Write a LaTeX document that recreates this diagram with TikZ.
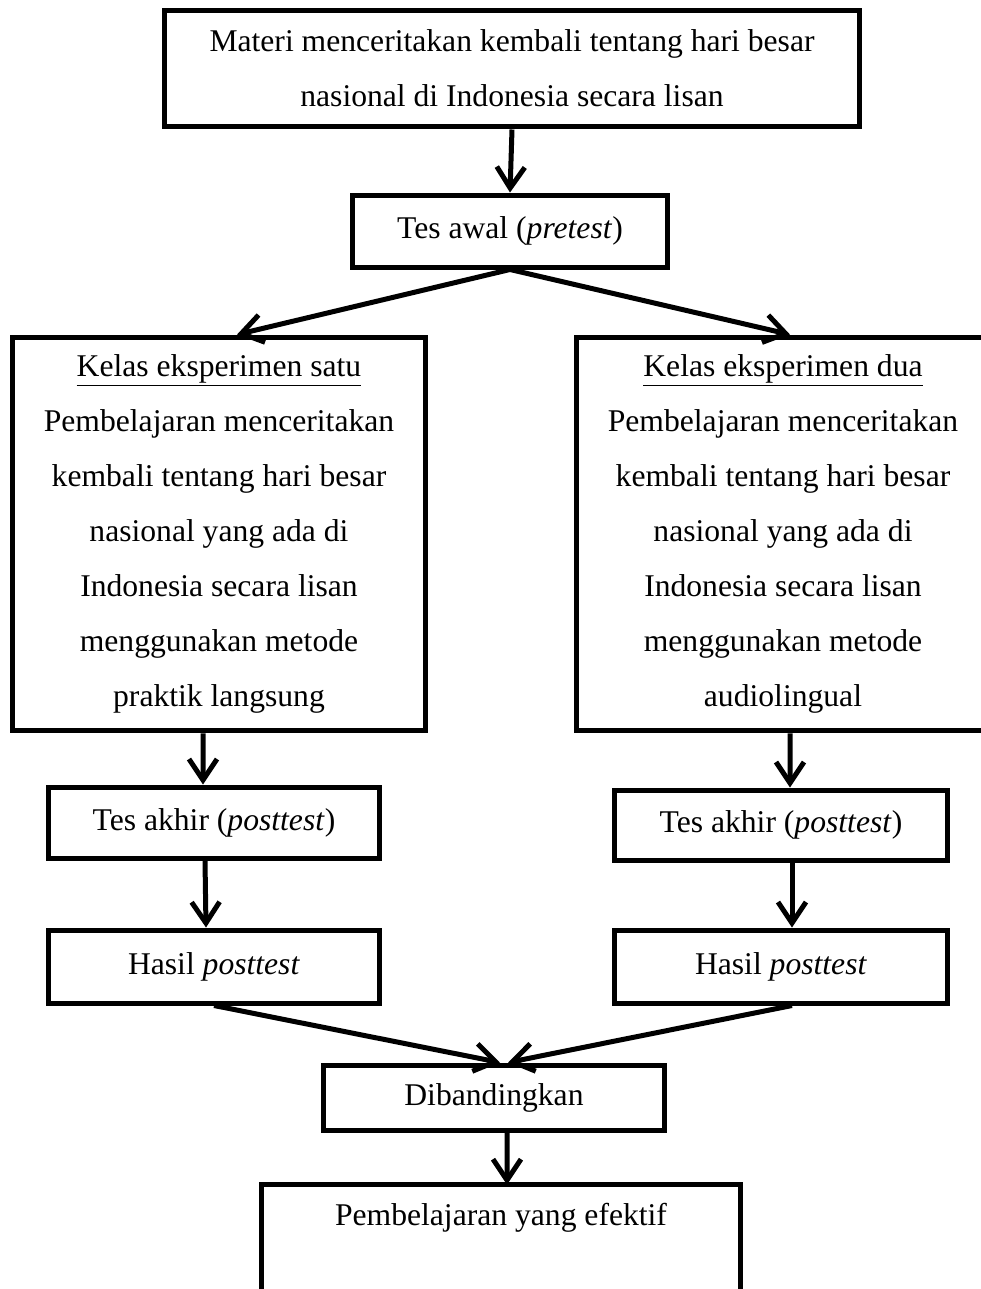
\documentclass[tikz,border=0pt]{standalone}
\usepackage{fontspec}
\setmainfont{Liberation Serif}
\usetikzlibrary{arrows.meta}

\begin{document}
\begin{tikzpicture}[x=0.02cm,y=-0.02cm]
\tikzstyle{every node}=[font=\fontsize{18}{31.3}\selectfont,align=center,inner sep=0pt];
\tikzstyle{kotak}=[draw,line width=0.1cm,rectangle];
\tikzstyle{panah}=[line width=0.1cm,-{Straight Barb[length=0.42cm,width=0.56cm]}];
\useasboundingbox (0,0) rectangle (981,1289);
\clip (0,0) rectangle (981,1289);
\path (512,68.5) node[kotak,minimum width=13.9cm,minimum height=2.34cm] (materi) {Materi menceritakan kembali tentang hari besar\\nasional di Indonesia secara lisan};
\path (510,231) node[kotak,minimum width=6.3cm,minimum height=1.44cm] (awal) {Tes awal (\textit{pretest})};
\path (219,534) node[kotak,minimum width=8.28cm,minimum height=7.88cm] (kiri) {\underline{Kelas eksperimen satu}\\Pembelajaran menceritakan\\kembali tentang hari besar\\nasional yang ada di\\Indonesia secara lisan\\menggunakan metode\\praktik langsung};
\path (783,534) node[kotak,minimum width=8.28cm,minimum height=7.88cm] (kanan) {\underline{Kelas eksperimen dua}\\Pembelajaran menceritakan\\kembali tentang hari besar\\nasional yang ada di\\Indonesia secara lisan\\menggunakan metode\\audiolingual};
\path (214,822.5) node[kotak,minimum width=6.64cm,minimum height=1.42cm] (akhirL) {Tes akhir (\textit{posttest})};
\path (781,825) node[kotak,minimum width=6.68cm,minimum height=1.4cm] (akhirR) {Tes akhir (\textit{posttest})};
\path (214,966.5) node[kotak,minimum width=6.64cm,minimum height=1.46cm] (hasilL) {Hasil \textit{posttest}};
\path (781,966.5) node[kotak,minimum width=6.68cm,minimum height=1.46cm] (hasilR) {Hasil \textit{posttest}};
\path (494,1097.5) node[kotak,minimum width=6.84cm,minimum height=1.3cm] (banding) {Dibandingkan};
\path (501,1218) node[minimum width=9.56cm,minimum height=1.32cm] (efektif) {Pembelajaran yang efektif};
\draw[line width=0.1cm] ([yshift=-2cm]efektif.south west) |- (efektif.north east) -- ([yshift=-2cm]efektif.south east);
\draw[panah] (materi.south) -- (awal.north);
\draw[panah] (awal.south) -- ([xshift=0.36cm]kiri.north);
\draw[panah] (awal.south) -- ([xshift=0.14cm]kanan.north);
\draw[panah] ([xshift=-0.32cm]kiri.south) -- ([xshift=-0.22cm]akhirL.north);
\draw[panah] ([xshift=0.14cm]kanan.south) -- ([xshift=0.18cm]akhirR.north);
\draw[panah] ([xshift=-0.18cm]akhirL.south) -- ([xshift=-0.16cm]hasilL.north);
\draw[panah] ([xshift=0.22cm]akhirR.south) -- ([xshift=0.22cm]hasilR.north);
\draw[panah] (hasilL.south) -- ([xshift=0.12cm]banding.north);
\draw[panah] ([xshift=0.22cm]hasilR.south) -- ([xshift=0.28cm]banding.north);
\draw[panah] ([xshift=0.26cm]banding.south) -- ([xshift=0.12cm]efektif.north);
\end{tikzpicture}
\end{document}
